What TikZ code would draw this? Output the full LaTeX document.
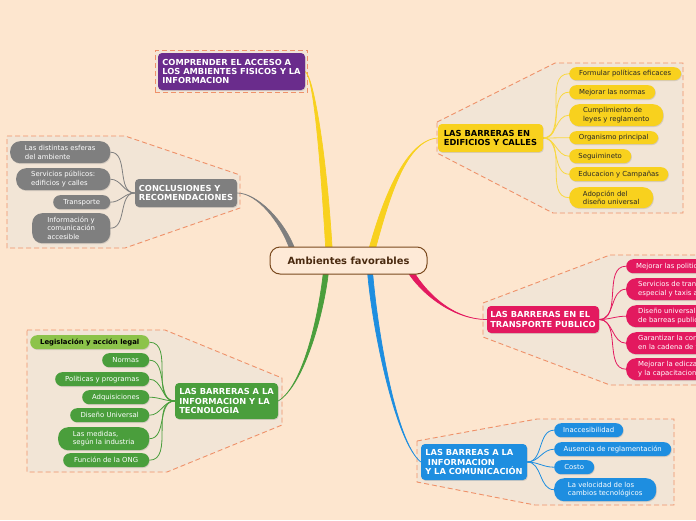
\documentclass[tikz,border=0pt]{standalone}
\usepackage{fontspec}
\setsansfont{DejaVu Sans}
\usetikzlibrary{positioning,fit,backgrounds,calc,shadows}

\definecolor{paper}{HTML}{FDE6CF}
\definecolor{zone}{HTML}{F2E5D6}
\definecolor{zoneline}{HTML}{EF9169}
\definecolor{hubfill}{HTML}{FEEAD7}
\definecolor{hubline}{HTML}{7A4A1E}
\definecolor{hubtext}{HTML}{4A2A10}
\definecolor{purp}{HTML}{6A2C8C}
\definecolor{yell}{HTML}{F8D11E}
\definecolor{rose}{HTML}{E3195F}
\definecolor{sky}{HTML}{1E8EE0}
\definecolor{leaf}{HTML}{4A9E3C}
\definecolor{lime}{HTML}{8CC34A}
\definecolor{slate}{HTML}{7F7F7F}

\begin{document}
\begin{tikzpicture}[
  x=1pt, y=-1pt,
  font=\sffamily,
  lift/.style={drop shadow={shadow xshift=0.7pt, shadow yshift=-0.9pt, opacity=0.25}},
  hub/.style={draw=hubline, line width=1pt, fill=hubfill, rounded corners=10pt, minimum width=157pt, minimum height=27pt, text=hubtext, font=\sffamily\bfseries\fontsize{9.9}{11}\selectfont},
  topic/.style={lift, rounded corners=4pt, align=left, inner sep=1pt, text=white, font=\sffamily\bfseries\fontsize{8.3}{9.2}\selectfont},
  sub/.style={lift, anchor=north west, rounded corners=7pt, align=left, inner sep=1pt, text=white, font=\sffamily\fontsize{6.9}{8.5}\selectfont},
  tall/.style={rounded corners=10pt},
  cut/.style={inner sep=0pt, inner xsep=12pt},
  ysub/.style={sub, fill=yell, text=black!85},
  twig/.style={line width=0.8pt, out=0, in=180},
  zonebox/.style={fill=zone, draw=zoneline, line width=0.9pt, dash pattern=on 5pt off 3pt},
]
\useasboundingbox (0,0) rectangle (696,520);
\clip (0,0) rectangle (696,520);

% -- Centre --
\node[hub] (hub) at (348.5,260.5) {Ambientes favorables};

% -- Topics --
\node[topic, fill=purp, minimum width=147pt, minimum height=37pt] (pur) at (231.5,71.5) {COMPRENDER EL ACCESO A\\LOS AMBIENTES FISICOS Y LA\\INFORMACION};
\node[topic, fill=yell, text=black, minimum width=105pt, minimum height=28pt] (ybar) at (490.5,138) {LAS BARRERAS EN\\EDIFICIOS Y CALLES};
\node[topic, fill=rose, minimum width=112pt, minimum height=27pt] (rbar) at (543,319.5) {LAS BARRERAS EN EL\\TRANSPORTE PUBLICO};
\node[topic, fill=sky, minimum width=106pt, minimum height=36pt] (bbar) at (474,462) {LAS BARREAS A LA\\\hspace*{2.6pt}INFORMACION\\Y LA COMUNICACIÓN};
\node[topic, fill=leaf, minimum width=103pt, minimum height=36pt] (gbar) at (226.5,401) {LAS BARRERAS A LA\\INFORMACION Y LA\\TECNOLOGIA};
\node[topic, fill=slate, minimum width=102pt, minimum height=28pt] (kbar) at (186,193) {CONCLUSIONES Y\\RECOMENDACIONES};

% -- Edificios y calles --
\node[ysub, minimum width=112pt, minimum height=13pt] (y1) at (569,67) {Formular políticas eficaces};
\node[ysub, minimum width=86pt, minimum height=14pt] (y2) at (569,85) {Mejorar las normas};
\node[ysub, tall, minimum width=94pt, minimum height=22pt] (y3) at (569,104) {Cumplimiento de\\leyes y reglamento};
\node[ysub, minimum width=89pt, minimum height=13pt] (y4) at (569,131) {Organismo principal};
\node[ysub, minimum width=62pt, minimum height=14pt] (y5) at (569,149) {Seguimineto};
\node[ysub, minimum width=99pt, minimum height=14pt] (y6) at (569,167) {Educacion y Campañas};
\node[ysub, tall, minimum width=84pt, minimum height=21pt] (y7) at (569,187) {Adopción del\\diseño universal};

% -- Transporte publico --
\node[sub, cut, fill=rose, inner xsep=10pt, minimum height=14pt] (r1) at (626,259) {Mejorar las politicas};
\node[sub, cut, tall, fill=rose, minimum height=22pt] (r2) at (626,278) {Servicios de transporte\\especial y taxis accesibles};
\node[sub, cut, tall, fill=rose, minimum height=22pt] (r3) at (626,305) {Diseño universal y eliminación\\de barreas publicas};
\node[sub, cut, tall, fill=rose, minimum height=22pt] (r4) at (626,332) {Garantizar la continuidad\\en la cadena de transporte};
\node[sub, cut, tall, fill=rose, minimum height=22pt] (r5) at (626,358) {Mejorar la ediczacion\\y la capacitacion};

% -- Informacion y comunicacion --
\node[sub, fill=sky, minimum width=69pt, minimum height=14pt] (b1) at (554,423) {Inaccesibilidad};
\node[sub, fill=sky, minimum width=117pt, minimum height=14pt] (b2) at (554,442) {Ausencia de reglamentación};
\node[sub, fill=sky, minimum width=40pt, minimum height=14pt] (b3) at (554,460) {Costo};
\node[sub, tall, fill=sky, minimum width=102pt, minimum height=23pt] (b4) at (554,478) {La velocidad de los\\cambios tecnológicos};

% -- Informacion y tecnologia --
\node[sub, fill=lime, text=black, font=\sffamily\bfseries\fontsize{6.9}{8.5}\selectfont, minimum width=119pt, minimum height=14pt] (g1) at (30,335) {Legislación y acción legal};
\node[sub, fill=leaf, minimum width=47pt, minimum height=14pt] (g2) at (102,353) {Normas};
\node[sub, fill=leaf, minimum width=94pt, minimum height=14pt] (g3) at (55,372) {Politicas y programas};
\node[sub, fill=leaf, minimum width=67pt, minimum height=14pt] (g4) at (82,390) {Adquisiciones};
\node[sub, fill=leaf, minimum width=79pt, minimum height=14pt] (g5) at (70,408) {Diseño Universal};
\node[sub, tall, fill=leaf, minimum width=91pt, minimum height=23pt] (g6) at (58,427) {Las medidas,\\según la industria};
\node[sub, fill=leaf, minimum width=86pt, minimum height=14pt] (g7) at (63,453) {Función de la ONG};

% -- Conclusiones --
\node[sub, tall, fill=slate, minimum width=100pt, minimum height=22pt] (k1) at (10,141) {Las distintas esferas\\del ambiente};
\node[sub, tall, fill=slate, minimum width=94pt, minimum height=22pt] (k2) at (16,168) {Servicios públicos:\\edificios y calles};
\node[sub, fill=slate, minimum width=57pt, minimum height=14pt] (k3) at (53,195) {Transporte};
\node[sub, tall, fill=slate, minimum width=78pt, minimum height=30pt] (k4) at (32,213) {Información y\\comunicación\\accesible};

\begin{scope}[on background layer]
\fill[paper] (0,0) rectangle (696,520);
\clip (0,0) rectangle (696,520);

% -- Zones --
\node[zonebox, fit=(pur), inner sep=2.5pt] (purzone) {};
\draw[zonebox] (437,122) -- (555,63) -- (683,63) -- (683,213) -- (553,213) -- (437,153) -- cycle;
\draw[zonebox] (483,303) -- (610,255) -- (720,255) -- (720,385) -- (610,385) -- (483,337) -- cycle;
\draw[zonebox] (417,441) -- (537,419) -- (674,419) -- (674,505) -- (535,505) -- (417,482) -- cycle;
\draw[zonebox] (27,330) -- (165,330) -- (282,378) -- (282,425) -- (167,472) -- (27,472) -- cycle;
\draw[zonebox] (7,136) -- (125,136) -- (240,175) -- (240,208) -- (125,248) -- (7,248) -- cycle;

% -- Branches --
\filldraw[slate, line width=0.7pt] ($(hub.north west)+(20.5,3)$) .. controls +(-10,-28) and +(20,0) .. (kbar.east) .. controls +(20,0) and +(-10,-28) .. ($(hub.north west)+(25.5,3)$) -- cycle;
\filldraw[yell, line width=0.7pt] ($(hub.north)+(-22.7,3)$) .. controls +(-6,-100) and +(8,5) .. (pur.east) .. controls +(8,5) and +(-6,-100) .. ($(hub.north)+(-16.3,3)$) -- cycle;
\filldraw[yell, line width=0.7pt] ($(hub.north)+(20.3,3)$) .. controls +(13,-47) and +(-33,2) .. (ybar.west) .. controls +(-33,2) and +(13,-47) .. ($(hub.north)+(26.7,3)$) -- cycle;
\filldraw[leaf, line width=0.7pt] ($(hub.south)+(-25,-3)$) .. controls +(-5,45) and +(25,-15) .. (gbar.east) .. controls +(25,-15) and +(-5,45) .. ($(hub.south)+(-20,-3)$) -- cycle;
\filldraw[sky, line width=0.7pt] ($(hub.south)+(19,-3)$) .. controls +(5,60) and +(-25,-20) .. (bbar.west) .. controls +(-25,-20) and +(5,60) .. ($(hub.south)+(24,-3)$) -- cycle;
\filldraw[rose, line width=0.7pt] ($(hub.south east)+(-20,-3)$) .. controls +(12,20) and +(-35,0) .. (rbar.west) .. controls +(-35,0) and +(12,20) .. ($(hub.south east)+(-14,-3)$) -- cycle;

% -- Twigs --
\foreach \k in {1,...,7} \draw[twig, yell!85!white] (ybar.east) to (y\k.west);
\foreach \k in {1,...,5} \draw[twig, rose] (rbar.east) to (r\k.west);
\foreach \k in {1,...,4} \draw[twig, sky] (bbar.east) to (b\k.west);
\foreach \k in {1,...,7} \draw[twig, leaf, out=180, in=0] (gbar.west) to (g\k.east);
\foreach \k in {1,...,4} \draw[twig, slate, out=180, in=0] (kbar.west) to (k\k.east);
\end{scope}
\end{tikzpicture}
\end{document}
